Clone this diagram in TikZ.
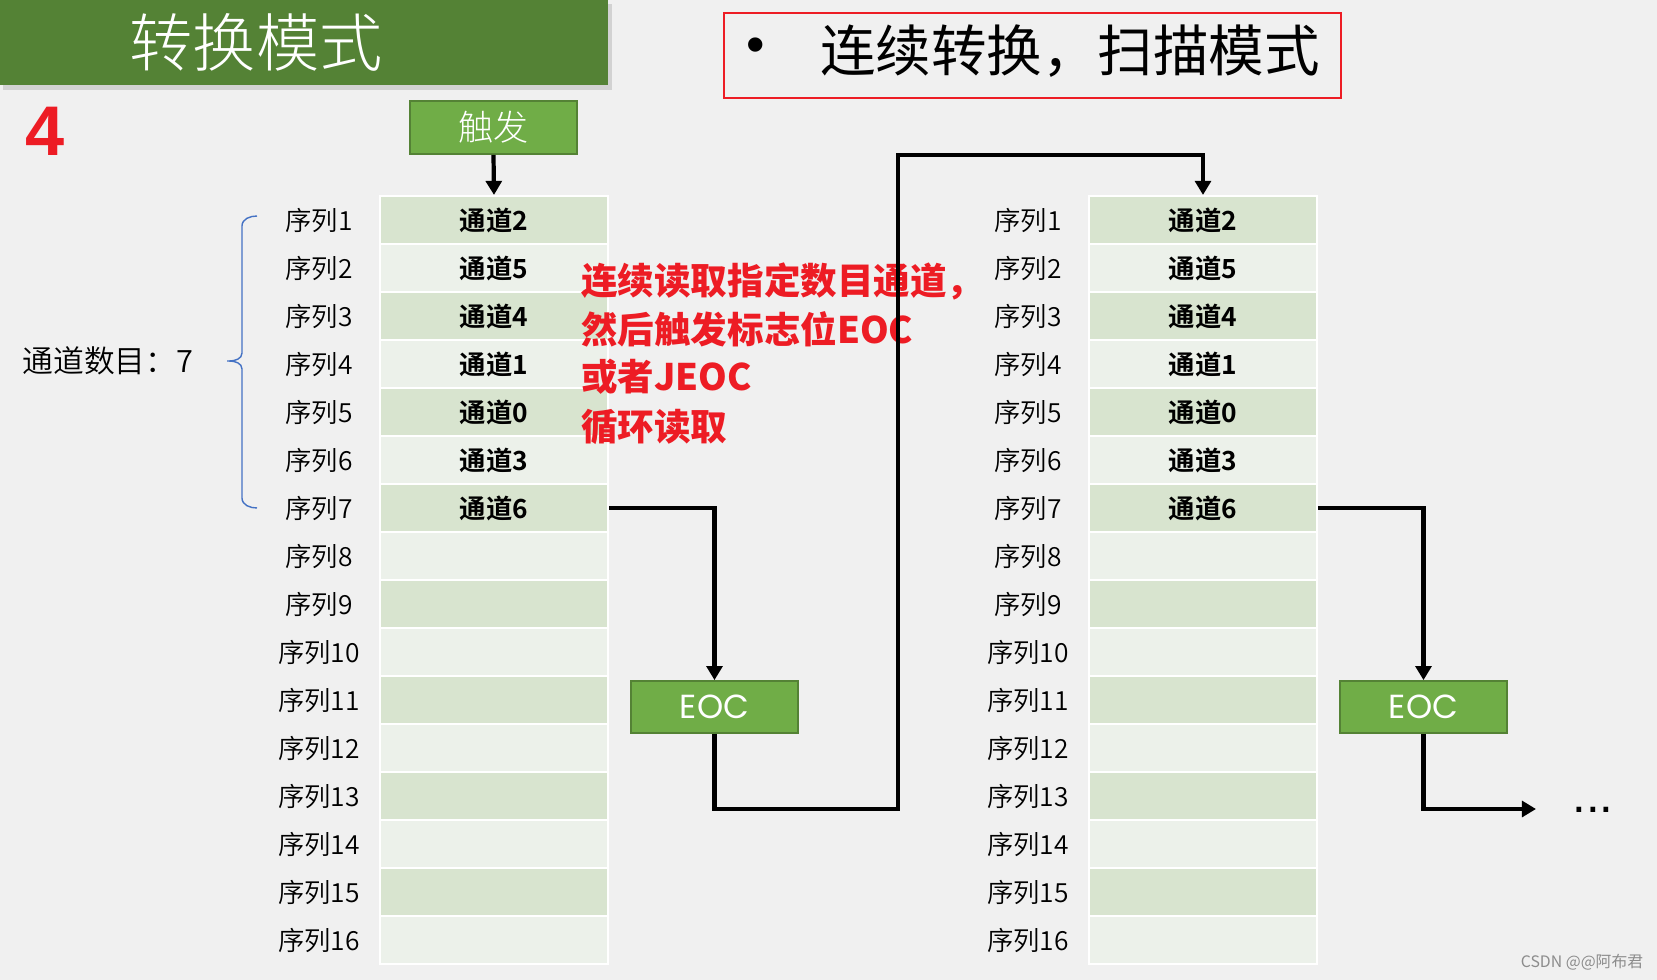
\documentclass[tikz,border=0pt]{standalone}
\usepackage{fontspec}
\setmainfont{Noto Sans CJK SC}[BoldFont={Noto Sans CJK SC Bold}]
\newfontfamily\heavyf{Noto Sans CJK SC}
\newfontfamily\lightf{Noto Sans CJK SC Light}
\newfontfamily\dlightf{Noto Sans CJK SC DemiLight}
\newfontfamily\arialf{Liberation Sans}
\newfontfamily\eocf{Poppins}
\usetikzlibrary{arrows.meta}
\definecolor{bgc}{HTML}{F0F0F0}
\definecolor{banner}{HTML}{548235}
\definecolor{gfill}{HTML}{70AD47}
\definecolor{gborder}{HTML}{548235}
\definecolor{rowd}{HTML}{D8E4CF}
\definecolor{rowl}{HTML}{ECF1EA}
\definecolor{redc}{HTML}{ED1C24}
\definecolor{bracec}{HTML}{4472C4}
\tikzset{
  rowbase/.style={rectangle, minimum width=4.56cm, minimum height=0.96cm, draw=white, line width=1.2pt, inner sep=0pt, font=\bfseries\fontsize{15}{15}\selectfont},
  row1/.style={rowbase, fill=rowd},
  row0/.style={rowbase, fill=rowl},
  lab/.style={inner sep=0pt, font=\dlightf\fontsize{15}{15}\selectfont},
  gbox/.style={rectangle, fill=gfill, draw=gborder, line width=1pt, minimum width=3.34cm, minimum height=1.04cm, inner sep=0pt, text=white},
  conn/.style={line width=2.4pt, -{Triangle[length=8pt,width=9pt]}},
  redtxt/.style={anchor=west, inner sep=0pt, text=redc, font=\heavyf\bfseries\fontsize{20.8}{20.8}\selectfont},
}
\begin{document}
\begin{tikzpicture}[x=0.02cm,y=-0.02cm]
\fill[bgc] (0,0) rectangle (1657,980);
\useasboundingbox (0,0) rectangle (1657,980);
% banner
\fill[black, opacity=0.12] (3,4) rectangle (612,90);
\fill[banner] (0,0) rectangle (608,85);
\node[text=white, inner sep=0pt, font=\lightf\fontsize{36}{36}\selectfont] (title) at (256,42) {转换模式};
\node[text=redc, inner sep=0pt, font=\arialf\bfseries\fontsize{40}{40}\selectfont] (four) at (45,131) {4};
% red box
\node[draw=redc, line width=1.5pt, minimum width=12.34cm, minimum height=1.7cm, inner sep=0pt] (hdr) at (1032.5,55.5) {};
\node[inner sep=0pt, font=\arialf\fontsize{30}{30}\selectfont] (bul) at (756,50) {•};
\node[inner sep=0pt, font=\fontsize{31.6}{32}\selectfont] (hdrtxt) at (1070,51) {连续转换，扫描模式};
% trigger
\node[gbox, minimum height=1.06cm, font=\lightf\fontsize{20}{20}\selectfont] (trig) at (493.5,127.5) {触发};
% tables
\foreach \i/\c in {1/2,2/5,3/4,4/1,5/0,6/3,7/6}{
  \pgfmathsetmacro\yy{172+48*\i}
  \pgfmathtruncatemacro\p{mod(\i,2)}
  \node[row\p] (L\i) at (494,\yy) {通道\c};
  \node[row\p] (R\i) at (1203,\yy) {通道\c};
}
\foreach \i in {8,...,16}{
  \pgfmathsetmacro\yy{172+48*\i}
  \pgfmathtruncatemacro\p{mod(\i,2)}
  \node[row\p] (L\i) at (494,\yy) {};
  \node[row\p] (R\i) at (1203,\yy) {};
}
\foreach \i in {1,...,16}{
  \pgfmathsetmacro\yy{172+48*\i}
  \node[lab] (lA\i) at (319,\yy) {序列\i};
  \node[lab] (lB\i) at (1028,\yy) {序列\i};
}
% brace and count
\draw[bracec, line width=0.8pt] (257,216) to[out=180,in=90] (242,226) -- (242,353) to[out=-90,in=0] (229,361) -- (227,361) -- (229,361) to[out=0,in=90] (242,369) -- (242,498) to[out=-90,in=180] (257,508);
\node[inner sep=0pt, font=\dlightf\fontsize{17.5}{18}\selectfont] (cnt) at (108,361) {通道数目：7};
% red explanation
\node[redtxt] (r1) at (581,281) {连续读取指定数目通道，};
\node[redtxt] (r2) at (581,329) {然后触发标志位EOC};
\node[redtxt] (r3) at (581,377) {或者JEOC};
\node[redtxt] (r4) at (581,427) {循环读取};
% EOC boxes
\node[gbox, font=\eocf\fontsize{19}{19}\selectfont] (eocA) at (714.5,707) {EOC};
\node[gbox, font=\eocf\fontsize{19}{19}\selectfont] (eocB) at (1423.5,707) {EOC};
\coordinate (c1) at (898,809);
\coordinate (c2) at (898,155);
\coordinate (c3) at (1536,809);
% connectors
\draw[conn] (trig.south) -- (L1.north);
\draw[conn] (L7.east) -| (eocA.north);
\draw[conn] (eocA.south) |- (c1) -- (c2) -| (R1.north);
\draw[conn] (R7.east) -| (eocB.north);
\draw[conn] (eocB.south) |- (c3);
\node[anchor=base west, inner sep=0pt, font=\arialf\fontsize{28}{28}\selectfont] (dots) at (1572,812) {...};
\node[text=black!45, inner sep=0pt, font=\fontsize{9}{9}\selectfont] (wm) at (1582,962) {CSDN @@阿布君};
\end{tikzpicture}
\end{document}
